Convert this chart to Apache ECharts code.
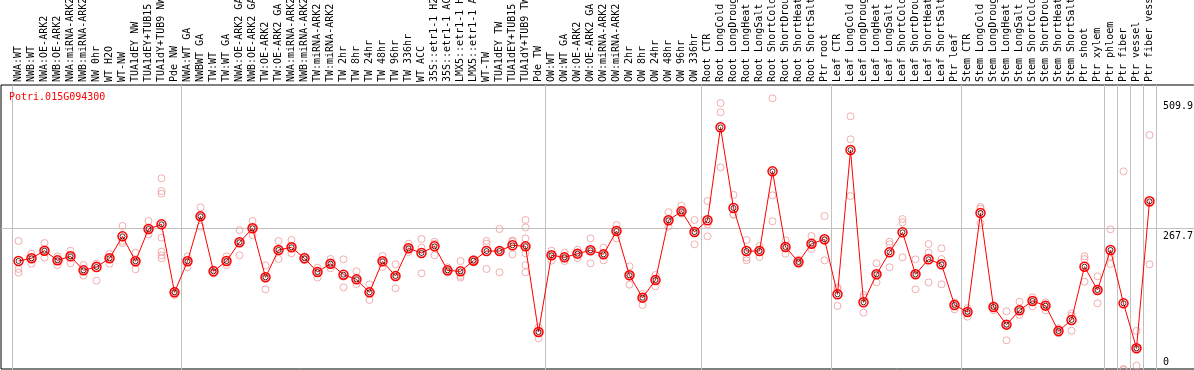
<!DOCTYPE html>
<html><head><meta charset="utf-8">
<script src="https://cdn.jsdelivr.net/npm/echarts@6/dist/echarts.min.js"></script>
<style>html,body{margin:0;padding:0;background:#fff}#c{width:1194px;height:370px}</style>
</head><body><div id="c"></div>
<script>
const chartTitle = 'Potri.015G094300';
const categories = [
 'NWA:WT','NWB:WT','NWA:OE-ARK2','NWB:OE-ARK2','NWA:miRNA-ARK2','NWB:miRNA-ARK2','NW 0hr','WT H2O','WT-NW','TUA1dEY NW',
 'TUA1dEY+TUB15 NW','TUA1dY+TUB9 NW','Pde NW','NWA:WT GA','NWBWT GA','TW:WT','TW:WT GA','NWA:OE-ARK2 GA','NWB:OE-ARK2 GA','TW:OE-ARK2',
 'TW:OE-ARK2 GA','NWA:miRNA-ARK2','NWB:miRNA-ARK2','TW:miRNA-ARK2','TW:miRNA-ARK2','TW 2hr','TW 8hr','TW 24hr','TW 48hr','TW 96hr',
 'TW 336hr','WT ACC','35S::etr1-1 H2O','35S::etr1-1 ACC','LMX5::etr1-1 H2O','LMX5::etr1-1 ACC','WT-TW','TUA1dEY TW','TUA1dEY+TUB15 TW','TUA1dY+TUB9 TW',
 'Pde TW','OW:WT','OW:WT GA','OW:OE-ARK2','OW:OE-ARK2 GA','OW:miRNA-ARK2','OW:miRNA-ARK2','OW 2hr','OW 8hr','OW 24hr',
 'OW 48hr','OW 96hr','OW 336hr','Root CTR','Root LongCold','Root LongDrought','Root LongHeat','Root LongSalt','Root ShortCold','Root ShortDrought',
 'Root ShortHeat','Root ShortSalt','Ptr root','Leaf CTR','Leaf LongCold','Leaf LongDrought','Leaf LongHeat','Leaf LongSalt','Leaf ShortCold','Leaf ShortDrought',
 'Leaf ShortHeat','Leaf ShortSalt','Ptr leaf','Stem CTR','Stem LongCold','Stem LongDrought','Stem LongHeat','Stem LongSalt','Stem ShortCold','Stem ShortDrought',
 'Stem ShortHeat','Stem ShortSalt','Ptr shoot','Ptr xylem','Ptr phloem','Ptr fiber','Ptr vessel','Ptr fiber vessel'
];
const means = [
 206.8,211.8,226.0,208.0,215.5,189.4,195.6,211.8,252.7,206.2,
 266.4,275.1,148.4,206.2,290.0,187.5,206.8,241.6,267.7,176.4,
 227.3,232.3,211.8,186.3,201.8,181.3,172.6,148.4,206.2,178.8,
 230.4,221.7,234.1,189.4,187.5,207.4,225.4,225.4,236.0,234.1,
 74.5,217.4,213.6,220.5,226.7,219.2,262.7,180.1,138.5,171.4,
 282.6,299.3,260.8,282.6,455.8,305.5,225.4,225.4,373.8,232.9,
 204.9,239.1,247.2,144.7,413.6,129.8,182.0,222.9,260.2,182.0,
 209.9,200.6,124.8,111.8,296.2,121.1,88.2,114.9,132.3,123.6,
 76.4,96.9,196.2,152.8,227.3,127.9,44.1,318.0
];
const replicates = [
 [244.1,191.9,185.1],[220.5,201.8,211.8],[240.3,213.0,226.0],[215.5,199.3,208.0],[226.0,218.0,202.4],
 [199.3,179.5,189.4],[201.8,199.3,170.2],[219.8,201.8,211.8],[272.0,244.1,240.3],[222.3,191.3,206.2],
 [281.3,256.5,266.4],[360.8,337.2,332.2,250.3,224.2,217.4,211.8],[150.9,143.5,148.4],[215.5,195.0,206.2],[306.8,270.8,290.0],
 [191.3,185.7,183.8],[215.5,199.3,206.8],[264.5,217.4,241.6],[281.3,255.2,267.7],[198.7,154.0,176.4],
 [244.1,210.5,227.3],[245.9,221.1,232.3],[215.5,210.5,208.7],[194.4,175.7,186.3],[210.5,193.1,201.8],
 [209.9,177.6,157.7],[187.5,163.9,172.6],[163.3,134.1,148.4],[216.1,195.6,206.2],[200.6,155.9,178.8],
 [239.1,223.6,230.4],[247.8,231.6,183.8],[242.8,239.1,217.4],[195.0,189.4,185.1],[206.8,178.8,175.7],
 [210.5,205.6,207.4],[244.1,239.1,191.9],[266.4,185.7,225.4],[245.3,242.8,219.2],[283.2,269.5,249.0,234.1,221.1,199.3,185.7],
 [83.2,62.7,74.5],[226.0,207.4,217.4],[222.3,206.8,213.6],[227.9,212.4,220.5],[249.0,202.4,226.7],
 [231.6,208.0,219.2],[273.9,249.0,262.7],[196.9,162.7,180.1],[145.3,124.8,138.5],[180.7,159.6,171.4],
 [297.9,270.8,282.6],[309.9,295.0,299.3],[283.2,237.8,260.8],[318.6,275.1,252.7],[501.1,483.8,381.3],
 [330.0,293.2,293.2],[245.9,213.0,208.0],[234.7,214.2,225.4],[509.9,329.1,280.7],[245.3,220.5,232.9],
 [209.3,200.6,204.9],[253.4,229.1,239.1],[290.6,244.7,208.0],[157.7,154.6,123.0],[476.3,433.5,327.9],
 [143.5,139.1,110.5],[202.4,182.0,167.0],[242.8,237.8,195.0],[285.0,278.8,213.6],[209.9,182.0,154.0],
 [238.5,222.3,167.0],[230.4,210.5,163.3],[129.8,116.7,124.8],[118.6,103.1,111.8],[307.4,304.3,277.6],
 [124.2,114.9,121.1],[113.0,88.2,59.0],[131.0,106.2,114.9],[139.1,122.3,132.3],[129.8,114.9,123.6],
 [81.4,72.0,76.4],[109.3,104.9,77.0],[215.5,210.5,168.3],[178.2,127.9,152.8],[265.8,214.9,201.2],
 [373.8,5.6,4.3],[76.4,44.1,11.8],[441.5,314.2,200.6]
];
const yTickLabels = [509.9, 267.7];
const yZeroLabel = [0];
const refLine = [267.7];
const groupStarts = [0, 13, 41, 53, 63, 73, 84, 85, 86, 87];

const FONT = '"DejaVu Sans Mono", monospace';
const Y_MAX = 534.7;
const repPoints = [];
replicates.forEach((r, i) => r.forEach(v => repPoints.push([i, v])));
const meanPoints = means.map((v, i) => [i, v]);

const chart = echarts.init(document.getElementById('c'), null, {renderer: 'canvas'});
chart.setOption({
  animation: false,
  backgroundColor: '#fff',
  title: {text: chartTitle, left: 9, top: 92, padding: 0,
    textStyle: {fontFamily: FONT, fontSize: 10, fontWeight: 'normal', color: '#ff0000'}},
  grid: [
    {left: 12, right: 38, top: 85, bottom: -2, containLabel: false, outerBoundsMode: 'none'},
    {left: 1, right: -2, top: 85, bottom: 1, containLabel: false, outerBoundsMode: 'none',
      show: true, borderColor: '#000', borderWidth: 1, backgroundColor: 'rgba(0,0,0,0)'}
  ],
  xAxis: [
    {type: 'category', gridIndex: 0, position: 'top', data: categories, boundaryGap: true,
      axisLine: {show: false}, axisTick: {show: false},
      axisLabel: {interval: 0, rotate: 90, margin: 3, fontFamily: FONT, fontSize: 10, color: '#000', hideOverlap: false},
      splitLine: {show: true, interval: (i) => groupStarts.includes(i), lineStyle: {color: '#c0c0c0', width: 1}}},
    {type: 'value', gridIndex: 1, show: false, min: 0, max: 1}
  ],
  yAxis: [
    {type: 'value', gridIndex: 0, min: 0, max: Y_MAX, show: false},
    {type: 'value', gridIndex: 0, min: 0, max: Y_MAX, position: 'right',
      axisLine: {show: false}, axisTick: {show: false}, splitLine: {show: false},
      axisLabel: {customValues: yTickLabels, margin: 7, verticalAlign: 'top', padding: [3, 0, 0, 0],
        fontFamily: FONT, fontSize: 10, color: '#000', formatter: v => v.toFixed(1)}},
    {type: 'value', gridIndex: 0, min: 0, max: Y_MAX, position: 'right',
      axisLine: {show: false}, axisTick: {show: false}, splitLine: {show: false},
      axisLabel: {customValues: yZeroLabel, margin: 7, verticalAlign: 'bottom', padding: [0, 0, 5, 0],
        fontFamily: FONT, fontSize: 10, color: '#000', formatter: v => String(v)}},
    {type: 'value', gridIndex: 1, min: 5.6, max: Y_MAX,
      axisLine: {show: false}, axisTick: {show: false, customValues: refLine}, axisLabel: {show: false},
      splitLine: {show: true, lineStyle: {color: '#c0c0c0', width: 1}}}
  ],
  series: [
    {type: 'scatter', xAxisIndex: 0, yAxisIndex: 0, data: repPoints, symbol: 'circle', symbolSize: 7,
      itemStyle: {color: 'rgba(0,0,0,0)', borderColor: '#ee9a9a', borderWidth: 1}, z: 2, silent: true},
    {type: 'line', xAxisIndex: 0, yAxisIndex: 0, data: means, symbol: 'circle', symbolSize: 9,
      lineStyle: {color: '#ff0000', width: 1},
      itemStyle: {color: 'rgba(0,0,0,0)', borderColor: '#ff0000', borderWidth: 1.5}, z: 3, silent: true},
    {type: 'scatter', xAxisIndex: 0, yAxisIndex: 0, data: meanPoints, symbol: 'circle', symbolSize: 5,
      itemStyle: {color: 'rgba(0,0,0,0)', borderColor: '#300000', borderWidth: 1}, z: 4, silent: true}
  ]
});
</script>
</body></html>
